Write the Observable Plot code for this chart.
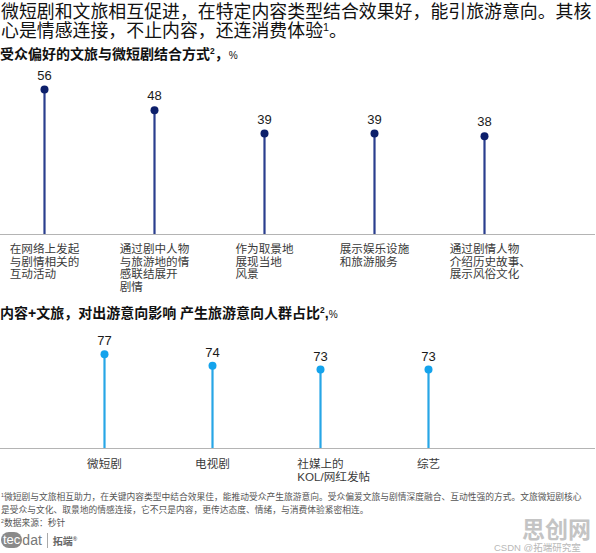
<!DOCTYPE html>
<html>
<head>
<meta charset="utf-8">
<script src="https://cdn.jsdelivr.net/npm/d3@7"></script>
<script src="https://cdn.jsdelivr.net/npm/@observablehq/plot@0.6"></script>
<style>
  html, body { margin: 0; padding: 0; background: #fff; }
  body { width: 596px; height: 553px; position: relative; overflow: hidden;
         font-family: "Liberation Sans", "Noto Sans CJK SC", sans-serif; color: #111; }
  .abs { position: absolute; left: 0; }
  #title { top: 3px; left: 1px; font-size: 17.9px; line-height: 19px; width: 600px; white-space: nowrap; color: #111; }
  #sub1 { top: 46px; font-size: 14px; line-height: 16px; font-weight: bold; white-space: nowrap; }
  #sub2 { top: 305px; font-size: 14px; line-height: 16px; font-weight: bold; white-space: nowrap; }
  #chart1 { top: 60px; }
  #chart2 { top: 325px; }
  #notes { top: 491px; left: 1px; font-size: 8.75px; line-height: 12.4px; color: #555; white-space: nowrap; }
  sup { font-size: 0.6em; vertical-align: 0; position: relative; top: -0.6em; }
  .pct { font-size: 0.72em; font-weight: normal; }
  #logo { top: 532px; left: 1px; height: 16px; display: flex; align-items: center; color: #777; font-size: 14px; }
  #logo .pill { background: #8a8a8a; color: #fff; border-radius: 8px; padding: 0 2px; font-size: 13px; line-height: 16px; }
  #logo .sep { width: 1px; height: 15px; background: #aaa; margin: 0 5px; }
  #logo .cn { font-size: 10px; font-weight: bold; color: #666; }
  #wm1 { left: 522px; top: 518px; font-size: 23px; font-weight: bold; color: #c4c4c4; line-height: 25px; }
  #wm2 { left: 494px; top: 542px; font-size: 9.5px; color: #b8b8b8; line-height: 11px; white-space: nowrap; }
</style>
</head>
<body>
<div id="title" class="abs">微短剧和文旅相互促进，在特定内容类型结合效果好，能引旅游意向。其核<br>心是情感连接，不止内容，还连消费体验<sup>1</sup>。</div>
<div id="sub1" class="abs">受众偏好的文旅与微短剧结合方式<sup>2</sup>，<span class="pct">%</span></div>
<div id="chart1" class="abs"></div>
<div id="sub2" class="abs">内容<span style="font-family:'Liberation Sans'">+</span>文旅，对出游意向影响 产生旅游意向人群占比<sup>2</sup>,<span class="pct">%</span></div>
<div id="chart2" class="abs"></div>
<div id="notes" class="abs">
  <div><sup>1</sup>微短剧与文旅相互助力，在关键内容类型中结合效果佳，能推动受众产生旅游意向。受众偏爱文旅与剧情深度融合、互动性强的方式。文旅微短剧核心</div>
  <div>是受众与文化、取景地的情感连接，它不只是内容，更传达态度、情绪，与消费体验紧密相连。</div>
  <div><sup>2</sup>数据来源：秒针</div>
</div>
<div id="logo" class="abs"><span class="pill">tec</span><span>dat</span><span class="sep"></span><span class="cn">拓端<sup>®</sup></span></div>
<div id="wm1" class="abs">思创网</div>
<div id="wm2" class="abs">CSDN @拓端研究室</div>

<script>
// ---- data ----
const categories1 = [
  "在网络上发起\n与剧情相关的\n互动活动",
  "通过剧中人物\n与旅游地的情\n感联结展开\n剧情",
  "作为取景地\n展现当地\n风景",
  "展示娱乐设施\n和旅游服务",
  "通过剧情人物\n介绍历史故事、\n展示风俗文化"
];
const values1 = [56, 48, 39, 39, 38];

const categories2 = ["微短剧", "电视剧", "社媒上的\nKOL/网红发帖", "综艺"];
const values2 = [77, 74, 73, 73];

const data1 = categories1.map((c, i) => ({cat: c, value: values1[i]}));
const data2 = categories2.map((c, i) => ({cat: c, value: values2[i]}));

const font = "'Liberation Sans','Noto Sans CJK SC',sans-serif";

// Category labels: left-aligned lines, block offset so the first line is centred on its stem
function shiftLabels(svg) {
  const groups = svg.querySelectorAll('g[aria-label="text"]');
  const g = groups[groups.length - 1];
  if (!g) return;
  g.querySelectorAll("text").forEach(t => {
    const first = t.querySelector("tspan") || t;
    const w = first.getComputedTextLength();
    t.setAttribute("transform", (t.getAttribute("transform") || "") + ` translate(${-w / 2},0)`);
  });
}

function lollipop({data, domain, xRange, yDomain, height, marginTop, marginBottom, lineColor, dotColor, labelDy, valueDy}) {
  return Plot.plot({
    width: 596,
    height,
    marginLeft: 0,
    marginRight: 1,
    marginTop,
    marginBottom,
    style: {fontFamily: font, fontSize: "12px", background: "transparent"},
    x: {type: "point", domain, range: xRange, padding: 0, axis: null},
    y: {domain: yDomain, axis: null},
    marks: [
      Plot.ruleY([yDomain[0]], {stroke: "#b4b4b4", strokeWidth: 1.2}),
      Plot.ruleX(data, {x: "cat", y1: yDomain[0], y2: "value", stroke: lineColor, strokeWidth: 2.2}),
      Plot.dot(data, {x: "cat", y: "value", r: 4, fill: dotColor, stroke: "none"}),
      Plot.text(data, {x: "cat", y: "value", text: d => String(d.value), dy: valueDy, fontSize: 13, fill: "#1a1a1a", fontFamily: "'Liberation Sans',sans-serif"}),
      Plot.text(data, {x: "cat", frameAnchor: "bottom", text: "cat", textAnchor: "start", lineAnchor: "top",
        dy: labelDy, fontSize: 11.6, lineHeight: 1.08, fill: "#3a3a3a"})
    ]
  });
}

const c1 = lollipop({
  data: data1, domain: categories1, xRange: [42, 485], yDomain: [0, 60],
  height: 244, marginTop: 18.7, marginBottom: 70,
  lineColor: "#2a3e8e", dotColor: "#0c1f6b", labelDy: 10, valueDy: -14
});
document.getElementById("chart1").appendChild(c1);
shiftLabels(c1);

const c2 = lollipop({
  data: data2, domain: categories2, xRange: [104, 428], yDomain: [52.5, 80],
  height: 160, marginTop: 17.1, marginBottom: 37,
  lineColor: "#27a6e6", dotColor: "#14a3ec", labelDy: 11, valueDy: -13
});
document.getElementById("chart2").appendChild(c2);
shiftLabels(c2);
</script>
</body>
</html>
